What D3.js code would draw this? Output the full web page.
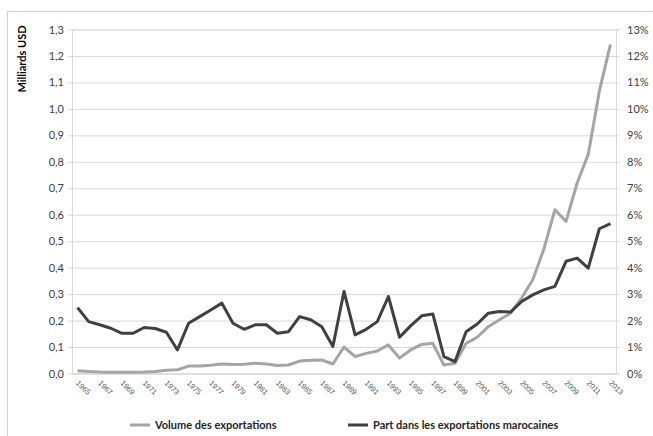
<!DOCTYPE html>
<html>
<head>
<meta charset="utf-8">
<script src="https://cdn.jsdelivr.net/npm/d3@7"></script>
<style>
  html, body { margin: 0; padding: 0; background: #ffffff; }
  svg { display: block; font-family: Lato, "Open Sans", sans-serif; }
</style>
</head>
<body>
<svg id="chart" width="653" height="436"></svg>
<script>
// Années 1965–2013
const years = d3.range(1965, 2014);

// Volume des exportations (milliards USD)
const volume = [0.010, 0.008, 0.006, 0.005, 0.005, 0.005, 0.006, 0.008, 0.012, 0.014,
  0.028, 0.028, 0.031, 0.036, 0.034, 0.035, 0.039, 0.036, 0.030, 0.032,
  0.047, 0.050, 0.051, 0.036, 0.100, 0.064, 0.076, 0.085, 0.108, 0.058,
  0.089, 0.110, 0.114, 0.032, 0.039, 0.114, 0.137, 0.177, 0.203, 0.228,
  0.285, 0.354, 0.470, 0.619, 0.575, 0.720, 0.828, 1.067, 1.244];

// Part dans les exportations marocaines (%)
const share = [2.49, 1.96, 1.84, 1.71, 1.52, 1.52, 1.74, 1.70, 1.56, 0.89,
  1.90, 2.15, 2.40, 2.66, 1.90, 1.67, 1.84, 1.84, 1.52, 1.58,
  2.15, 2.03, 1.77, 1.02, 3.10, 1.46, 1.67, 1.96, 2.91, 1.37,
  1.80, 2.18, 2.25, 0.64, 0.45, 1.58, 1.87, 2.28, 2.34, 2.32,
  2.72, 2.97, 3.16, 3.29, 4.24, 4.36, 3.98, 5.47, 5.66];

const leftTicks = d3.range(0, 14).map(d => d / 10);
const rightTicks = d3.range(0, 14);
const yearTicks = years.filter((y, i) => i % 2 === 0);

const seriesNames = ["Volume des exportations", "Part dans les exportations marocaines"];
const colors = ["#a5a5a5", "#404040"];

const svg = d3.select("#chart");
const m = { left: 72, right: 616, top: 29.5, bottom: 373.5 };

// Cadre du graphique
svg.append("rect")
  .attr("x", 7.5).attr("y", 11.5)
  .attr("width", 700).attr("height", 500)
  .attr("fill", "none").attr("stroke", "#d0d0d0");

const x = d3.scaleBand().domain(years).range([m.left, m.right]).padding(0);
const cx = d => x(d) + x.bandwidth() / 2;
const yL = d3.scaleLinear().domain([0, 1.3]).range([m.bottom, m.top]);
const yR = d3.scaleLinear().domain([0, 13]).range([m.bottom, m.top]);

const comma = v => d3.format(".1f")(v).replace(".", ",");

// Grille + axe gauche
const gL = svg.append("g")
  .attr("transform", `translate(${m.left},0)`)
  .call(d3.axisLeft(yL).tickValues(leftTicks).tickFormat(comma)
    .tickSize(-(m.right - m.left)).tickPadding(8));
gL.select(".domain").attr("stroke", "#d9d9d9");
gL.selectAll(".tick line").attr("stroke", "#d9d9d9").attr("x1", -4);
gL.selectAll(".tick text")
  .attr("font-size", 11).attr("fill", "#404040")
  .attr("font-family", "Lato, sans-serif");

// Axe droit
const gR = svg.append("g")
  .attr("transform", `translate(${m.right},0)`)
  .call(d3.axisRight(yR).tickValues(rightTicks).tickFormat(d => d + "%")
    .tickSize(4).tickPadding(7));
gR.select(".domain").attr("stroke", "#d9d9d9");
gR.selectAll(".tick line").attr("stroke", "#d9d9d9");
gR.selectAll(".tick text")
  .attr("font-size", 11).attr("fill", "#404040")
  .attr("font-family", "Lato, sans-serif");

// Axe des années
const gX = svg.append("g")
  .attr("transform", `translate(0,${m.bottom})`)
  .call(d3.axisBottom(x).tickValues(yearTicks).tickSize(0).tickPadding(0));
gX.select(".domain").attr("stroke", "#d9d9d9");
gX.selectAll(".tick text")
  .attr("font-size", 7.5).attr("fill", "#595959")
  .attr("text-anchor", "start")
  .attr("dy", null).attr("y", 0)
  .attr("transform", "translate(-2,10) rotate(45)");

// Titre de l'axe gauche
svg.append("text")
  .attr("transform", "translate(26,59) rotate(-90)")
  .attr("text-anchor", "middle")
  .attr("font-size", 11).attr("font-weight", "bold")
  .attr("fill", "#000")
  .text("Milliards USD");

// Courbes
const lineL = d3.line().x((d, i) => cx(years[i])).y(d => yL(d));
const lineR = d3.line().x((d, i) => cx(years[i])).y(d => yR(d));

svg.append("path").datum(volume)
  .attr("d", lineL).attr("fill", "none")
  .attr("stroke", colors[0]).attr("stroke-width", 3)
  .attr("stroke-linejoin", "round");

svg.append("path").datum(share)
  .attr("d", lineR).attr("fill", "none")
  .attr("stroke", colors[1]).attr("stroke-width", 3)
  .attr("stroke-linejoin", "round");

// Légende
const legendPos = [130, 348];
seriesNames.forEach((name, i) => {
  const g = svg.append("g").attr("transform", `translate(${legendPos[i]},425)`);
  g.append("line").attr("x1", 0).attr("x2", 20).attr("y1", 0).attr("y2", 0)
    .attr("stroke", colors[i]).attr("stroke-width", 3);
  g.append("text").attr("x", 25).attr("y", 4)
    .attr("font-size", 11).attr("font-weight", "bold").attr("fill", "#262626")
    .text(name);
});
</script>
</body>
</html>
